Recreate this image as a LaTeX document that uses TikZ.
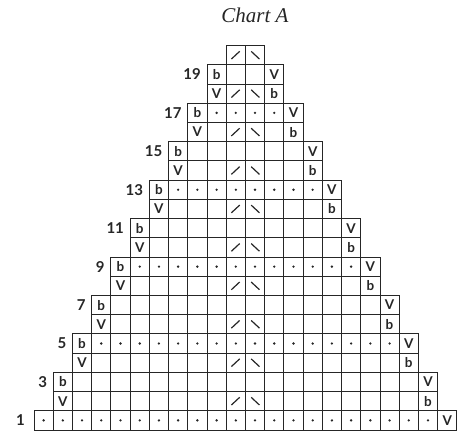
\documentclass[tikz,border=0pt]{standalone}
\usepackage{fontspec}
\setmainfont{Liberation Serif}
\newfontfamily\lblfont{Lato}
\def\cs{19.22}
\def\xo{34}
\def\yb{430}
\begin{document}
\begin{tikzpicture}[x=1pt,y=-1pt,
  grid/.style={draw=black!85,line width=0.9pt},
  sym/.style={font=\lblfont\bfseries\fontsize{13.5}{13.5}\selectfont,inner sep=0pt,text=black!85},
  rowlbl/.style={font=\lblfont\bfseries\fontsize{15}{15}\selectfont,inner sep=0pt,anchor=east,text=black!85},
  stroke/.style={draw=black!85,line width=1.2pt},
  title/.style={font=\itshape\fontsize{21}{21}\selectfont,anchor=base,text=black!85}]
\useasboundingbox (0,0) rectangle (461,433);
\node[title] (title) at (255,23) {Chart A};
% rows
\foreach \r in {1,...,20}{
  \pgfmathtruncatemacro\k{\r==1 ? 0 : floor(\r/2)}
  \pgfmathtruncatemacro\kk{21-\k}
  \pgfmathsetmacro\ybot{\yb-(\r-1)*\cs}
  \foreach \c in {\k,...,\kk}{
    \pgfmathsetmacro\xl{\xo+\c*\cs}
    \draw[grid] (\xl,\ybot) rectangle ++(\cs,-\cs);
  }
}
% row 1 content
\foreach \c in {0,...,20}{
  \pgfmathsetmacro\xm{\xo+(\c+0.5)*\cs}
  \fill[black!85] (\xm,\yb-\cs/2) circle (1.3);
}
\node[sym] (v1) at ({\xo+21.5*\cs},{\yb-\cs/2}) {V};
\node[rowlbl] (l1) at ({\xo-9},{\yb-\cs/2}) {1};
% other rows
\foreach \r in {2,...,20}{
  \pgfmathtruncatemacro\k{floor(\r/2)}
  \pgfmathtruncatemacro\kk{21-\k}
  \pgfmathsetmacro\ybot{\yb-(\r-1)*\cs}
  \pgfmathsetmacro\ymid{\ybot-\cs/2}
  \pgfmathsetmacro\xa{\xo+(\k+0.5)*\cs}
  \pgfmathsetmacro\xz{\xo+(\kk+0.5)*\cs}
  \pgfmathtruncatemacro\ev{mod(\r,2)==0 ? 1 : 0}
  \ifnum\ev=1
    \ifnum\r<20
      \node[sym] (vl\r) at (\xa,\ymid) {V};
      \node[sym] (br\r) at (\xz,\ymid) {b};
    \fi
    \pgfmathsetmacro\xs{\xo+10*\cs}
    \pgfmathsetmacro\xt{\xo+11*\cs}
    \draw[stroke] (\xs+0.27*\cs,\ybot-0.3*\cs) -- (\xs+0.7*\cs,\ybot-0.7*\cs);
    \draw[stroke] (\xt+0.3*\cs,\ybot-0.7*\cs) -- (\xt+0.73*\cs,\ybot-0.3*\cs);
  \else
    \node[sym] (bl\r) at (\xa,\ymid) {b};
    \node[sym] (vr\r) at (\xz,\ymid) {V};
    \node[rowlbl] (l\r) at ({\xo+\k*\cs-6},\ymid) {\r};
    \pgfmathtruncatemacro\dt{mod(\r,4)==1 ? 1 : 0}
    \ifnum\dt=1
      \pgfmathtruncatemacro\ka{\k+1}
      \pgfmathtruncatemacro\kb{\kk-1}
      \foreach \c in {\ka,...,\kb}{
        \pgfmathsetmacro\xm{\xo+(\c+0.5)*\cs}
        \fill[black!85] (\xm,\ymid) circle (1.3);
      }
    \fi
  \fi
}
\end{tikzpicture}
\end{document}
